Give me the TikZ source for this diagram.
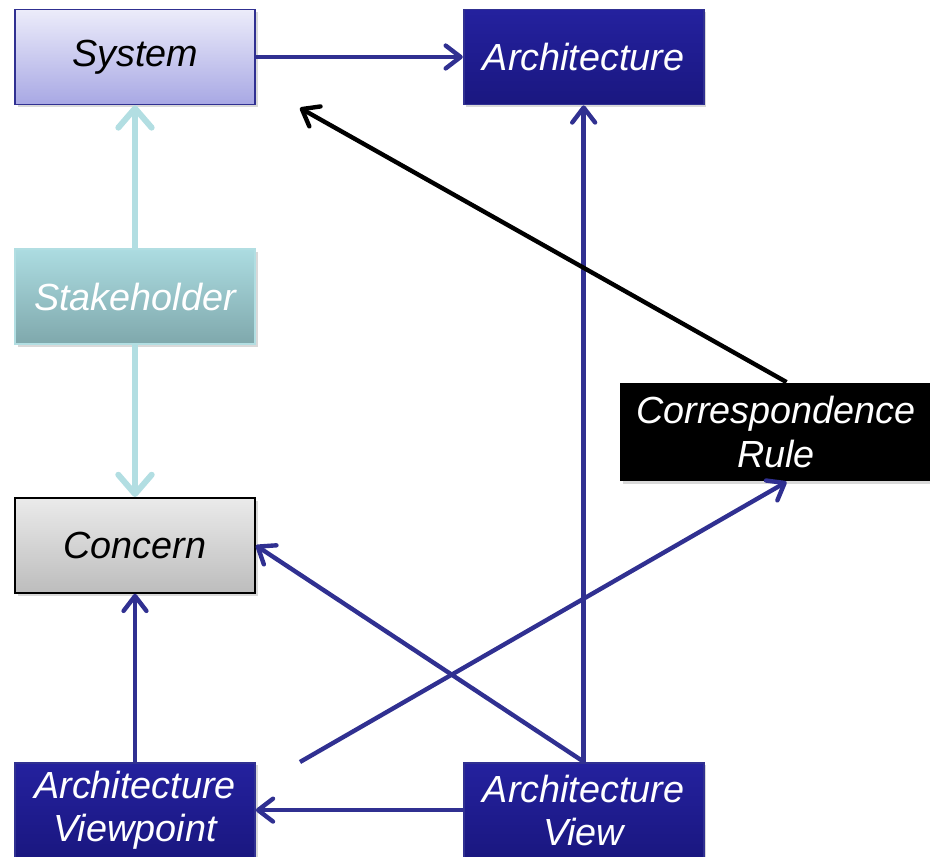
\documentclass[tikz,border=0pt]{standalone}
\usepackage{fontspec}
\setmainfont{Liberation Sans}
\usetikzlibrary{positioning,arrows.meta,shadows}

\definecolor{archblue}{RGB}{36,33,158}
\definecolor{archdark}{RGB}{26,23,128}
\definecolor{lineblue}{RGB}{48,48,145}
\definecolor{stakecyan}{RGB}{178,222,226}
\definecolor{staketop}{RGB}{172,220,225}
\definecolor{stakebot}{RGB}{127,168,172}
\definecolor{systop}{RGB}{236,236,250}
\definecolor{sysbot}{RGB}{168,168,228}

\tikzset{
  box/.style={rectangle, minimum width=4.8cm, minimum height=1.9cm, align=center,
    font=\fontsize{21.5}{24.5}\selectfont\itshape, line width=1pt,
    drop shadow={shadow xshift=1.5pt, shadow yshift=-1.5pt, opacity=0.3}},
  sysbox/.style={box, draw=lineblue, top color=systop, bottom color=sysbot, text=black},
  archbox/.style={box, draw=lineblue, top color=archblue, bottom color=archdark, text=white},
  stakebox/.style={box, draw=stakecyan, top color=staketop, bottom color=stakebot, text=white},
  concbox/.style={box, draw=black, top color=black!8, bottom color=black!26, text=black},
  rulebox/.style={box, fill=black, text=white, minimum width=6.24cm, minimum height=1.96cm,
    font=\fontsize{21.5}{25.5}\selectfont\itshape},
  bluearrow/.style={draw=lineblue, line width=2.5pt, -{Straight Barb[length=8.5pt,width=13pt,round]}},
  cyanarrow/.style={draw=stakecyan, line width=3.4pt, -{Straight Barb[length=11pt,width=19pt,round]}},
  blackarrow/.style={draw=black, line width=2.5pt, -{Straight Barb[length=8.5pt,width=13pt,round]}}
}

\begin{document}
\begin{tikzpicture}[x=0.02cm, y=-0.02cm]
    \useasboundingbox (0,0) rectangle (930,857);

    % the boxes
    \node [sysbox] (system) at (135,57) {System};
    \node [archbox, right=4.14cm of system] (arch) {Architecture};
    \node [stakebox, below=2.86cm of system] (stake) {Stakeholder};
    \node [concbox, below=3.04cm of stake] (concern) {Concern};
    \node [archbox, below=3.36cm of concern] (viewpoint) {Architecture\\Viewpoint};
    \node [archbox, right=4.14cm of viewpoint] (view) {Architecture\\View};
    \node [rulebox] (rule) at (776,432) {Correspondence\\Rule};

    % free ends
    \coordinate (vpstart) at (300,762);
    \coordinate (systip) at (300,108);

    % the connectors
    \draw [bluearrow] (system) -- (arch);
    \draw [cyanarrow] (stake) -- (system);
    \draw [cyanarrow] (stake) -- (concern);
    \draw [bluearrow] (viewpoint) -- (concern);
    \draw [bluearrow] (view) -- (viewpoint);
    \draw [bluearrow] (view.north) -- (arch);
    \draw [bluearrow] (view.north) -- (concern.east);
    \draw [bluearrow] (vpstart) -- ([xshift=6]rule.south);
    \draw [blackarrow] ([xshift=6]rule.north) -- (systip);
\end{tikzpicture}
\end{document}
